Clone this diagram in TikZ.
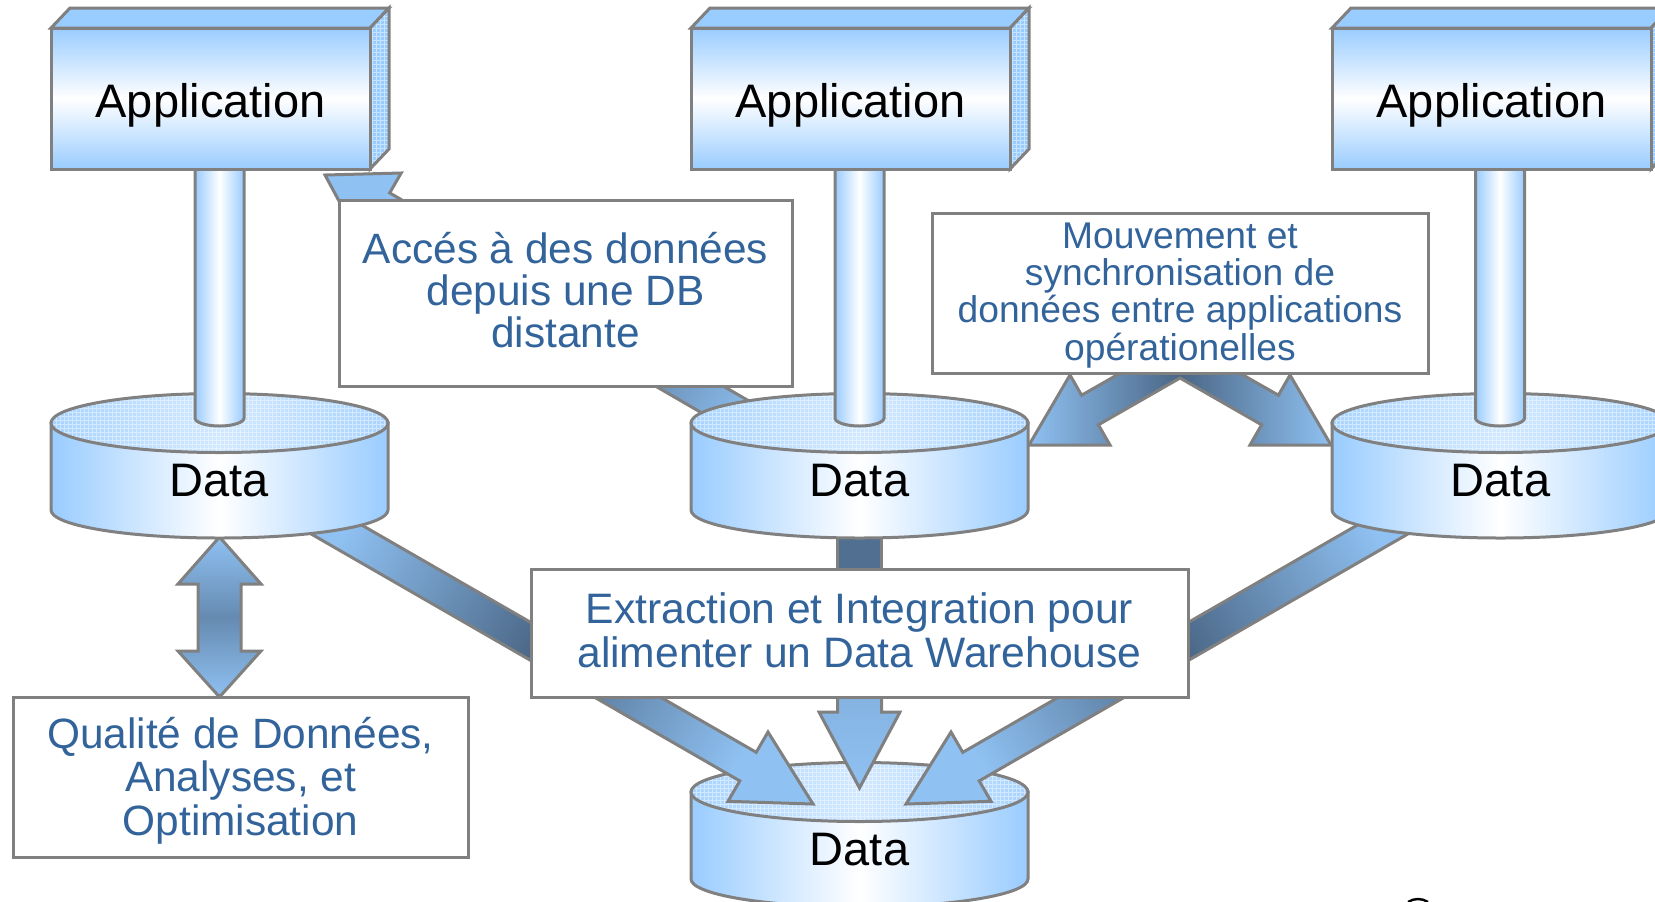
\documentclass[tikz,border=0pt]{standalone}
\usepackage{fontspec}
\setmainfont{Liberation Sans}
\usetikzlibrary{calc}
\definecolor{lb}{RGB}{153,204,255}
\definecolor{edge}{RGB}{128,128,128}
\definecolor{dk}{RGB}{74,102,133}
\definecolor{txtblue}{RGB}{50,100,155}
\definecolor{arrlight}{RGB}{143,193,242}
\tikzset{
  ol/.style={draw=edge, line width=1.5pt, line join=miter},
  apptext/.style={font=\fontsize{23.5}{28}\selectfont, text=black, inner sep=0pt, anchor=base},
  calltext/.style={text=txtblue, align=center, inner sep=0pt, anchor=base},
  callbox/.style={ol, fill=white},
  gridlines/.style={white, opacity=.45, line width=.4pt, step=2pt},
  blockarrow/.style={ol, top color=arrlight, bottom color=arrlight, middle color=dk},
}
\newcommand\drawcyl[3]{%
  \path[ol, left color=lb, right color=lb, middle color=white] (#1-168.5,#2) -- (#1-168.5,#2+87) arc[start angle=180, end angle=0, x radius=168.5, y radius=28] -- (#1+168.5,#2) -- cycle;
  \path[left color=lb!85!white, right color=lb!85!white, middle color=lb!45!white] (#1,#2) ellipse[x radius=168.5, y radius=29.5];
  \begin{scope}
    \clip (#1,#2) ellipse[x radius=168.5, y radius=29.5];
    \draw[gridlines] (#1-170,#2+31) grid (#1+170,#2-31);
  \end{scope}
  \draw[ol] (#1,#2) ellipse[x radius=168.5, y radius=29.5];
  \node[apptext] (#3) at (#1,#2+73) {Data};
}
\newcommand\drawstem[1]{%
  \path[ol, left color=lb, right color=lb, middle color=white] (#1-24.5,160) -- (#1-24.5,418) arc[start angle=180, end angle=0, x radius=24.5, y radius=8] -- (#1+24.5,160) -- cycle;
}
\newcommand\drawapp[2]{%
  \path[ol, fill=lb] (#1,28) -- (#1+19,8) -- (#1+338,8) -- (#1+319,28) -- cycle;
  \fill[lb] (#1+319,28) -- (#1+338,8) -- (#1+338,149) -- (#1+319,169) -- cycle;
  \begin{scope}
    \clip (#1+319,28) -- (#1+338,8) -- (#1+338,149) -- (#1+319,169) -- cycle;
    \draw[gridlines] (#1+318,170) grid (#1+340,6);
  \end{scope}
  \draw[ol] (#1+319,28) -- (#1+338,8) -- (#1+338,149) -- (#1+319,169) -- cycle;
  \path[ol, top color=lb, bottom color=lb, middle color=white] (#1,28) rectangle (#1+319,169);
  \node[apptext] (#2) at (#1+159.5,117) {Application};
}
\begin{document}
\begin{tikzpicture}[x=0.5pt,y=-0.5pt]
\useasboundingbox (0,0) rectangle (1655,901);
\clip (0,0) rectangle (1655,901);

% warehouse cylinder
\drawcyl{859.5}{792}{dw}

% block arrows (behind the shapes)
\path[blockarrow, shading angle=60] (325,175) -- (401.2,173) -- (389.7,192.9) -- (817.9,440.9) -- (800.9,470.3) -- (372.7,222.3) -- (361.2,242.2) -- cycle;
\path[blockarrow, shading angle=60] (288.2,482.7) -- (756.2,752.3) -- (768,732) -- (813,804) -- (728,801.3) -- (739.8,780.9) -- (271.8,511.3) -- cycle;
\path[blockarrow, shading angle=-60] (1430.8,482.7) -- (962.8,752.3) -- (951,732) -- (906,804) -- (991,801.3) -- (979.2,780.9) -- (1447.2,511.3) -- cycle;
\path[ol, fill=dk!90!arrlight] (837.5,470) rectangle (881.5,620);
\path[ol, top color=arrlight!75!dk, bottom color=arrlight] (837.5,640) -- (837.5,712) -- (819,712) -- (859.5,788) -- (900,712) -- (881.5,712) -- (881.5,640) -- cycle;
\path[blockarrow, middle color=dk!60!arrlight] (219.5,537) -- (261,584) -- (241,584) -- (241,651) -- (261,651) -- (219.5,697) -- (178,651) -- (198,651) -- (198,584) -- (178,584) -- cycle;
\path[ol, left color=arrlight, right color=arrlight, middle color=dk] (1180,339) -- (1278.4,395.2) -- (1290,375) -- (1331,445) -- (1250,445) -- (1261.6,424.8) -- (1180,378) -- (1098.4,424.8) -- (1110,445) -- (1029,445) -- (1070,375) -- (1081.6,395.2) -- cycle;

% columns
\drawcyl{219.5}{423}{d1}
\drawcyl{859.5}{423}{d2}
\drawcyl{1500.5}{423}{d3}
\drawstem{219.5}
\drawstem{859.5}
\drawstem{1500}
\drawapp{51}{a1}
\drawapp{691}{a2}
\drawapp{1332}{a3}

% callout boxes (text anchored at the baseline of the last line)
\draw[callbox] (339,200) rectangle (792,386);
\node[calltext, font=\fontsize{21.2}{21}\selectfont] (t1) at (565.5,347) {Accés à des données\\depuis une DB\\distante};
\draw[callbox] (932,213) rectangle (1428,373);
\node[calltext, font=\fontsize{18.6}{18.6}\selectfont] (t2) at (1180,360) {Mouvement et\\synchronisation de\\données entre applications\\opérationelles};
\draw[callbox] (531,569) rectangle (1188,697);
\node[calltext, font=\fontsize{21.3}{22}\selectfont] (t3) at (859.5,667) {Extraction et Integration pour\\alimenter un Data Warehouse};
\draw[callbox] (13,697) rectangle (468,857);
\node[calltext, font=\fontsize{21.2}{21.75}\selectfont] (t4) at (240.5,835) {Qualité de Données,\\Analyses, et\\Optimisation};

\draw[black, line width=1.2pt] (1408,902) .. controls (1414,898) and (1422,898) .. (1428,902);
\end{tikzpicture}
\end{document}
